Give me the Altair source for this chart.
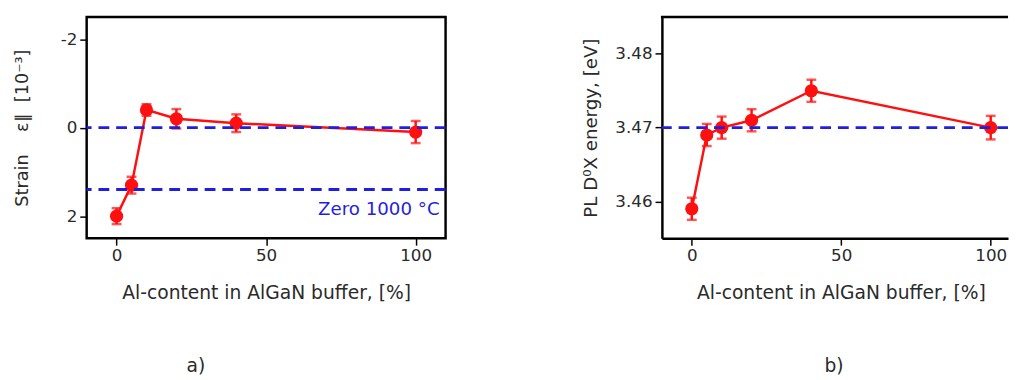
import altair as alt
import pandas as pd

# ---- data ----
al_content = [0, 5, 10, 20, 40, 100]
strain = [2.0, 1.3, -0.4, -0.2, -0.1, 0.1]
strain_err = [0.18, 0.19, 0.13, 0.22, 0.2, 0.25]
energy = [3.459, 3.469, 3.470, 3.471, 3.475, 3.470]
energy_err = [0.0015, 0.0015, 0.0015, 0.0015, 0.0015, 0.0016]
strain_refs = [0.0, 1.4]
energy_refs = [3.470]
strain_ticks = [-2, 0, 2]
energy_ticks = [3.46, 3.47, 3.48]
x_ticks = [0, 50, 100]

FONT = "DejaVu Sans"
RED = "#ff1010"
BLUE = "#1f1fe0"
TXT = "#2a2a2a"

df_s = pd.DataFrame({"al": al_content, "v": strain,
                     "lo": [v - e for v, e in zip(strain, strain_err)],
                     "hi": [v + e for v, e in zip(strain, strain_err)]})
df_e = pd.DataFrame({"al": al_content, "v": energy,
                     "lo": [v - e for v, e in zip(energy, energy_err)],
                     "hi": [v + e for v, e in zip(energy, energy_err)]})

xtitle = "Al-content in AlGaN buffer, [%]"


def panel(df, refs, ydomain, yticks, reverse, ytitle, ytitle_x, ytitle_size, label_expr,
          width, xdomain, label, label_x, xtitle_x, frame):
    xs = alt.Scale(domain=xdomain, nice=False, zero=False)
    ys = alt.Scale(domain=ydomain, nice=False, zero=False, reverse=reverse)
    xaxis = alt.Axis(values=x_ticks, title=xtitle, grid=False, domain=not frame,
                     domainColor="black", domainWidth=2.5,
                     tickColor="black", tickWidth=1.5, tickSize=7,
                     labelPadding=3, labelFontSize=17, labelColor=TXT, labelFont=FONT,
                     titleFont=FONT, titleFontSize=19, titleFontWeight="normal",
                     titleColor=TXT, titleY=55, titleBaseline="middle",
                     titleX=xtitle_x)
    yaxis = alt.Axis(values=yticks, title=ytitle, grid=False, domain=not frame,
                     domainColor="black", domainWidth=2.5, labelExpr=label_expr,
                     tickColor="black", tickWidth=1.5, tickSize=7,
                     labelPadding=3, labelFontSize=17, labelColor=TXT, labelFont=FONT,
                     titleFont=FONT, titleFontSize=ytitle_size, titleFontWeight="normal",
                     titleColor=TXT, titleX=ytitle_x, titleBaseline="middle")
    base = alt.Chart(df)
    line = base.mark_line(color=RED, strokeWidth=2.5).encode(
        x=alt.X("al:Q", scale=xs, axis=xaxis), y=alt.Y("v:Q", scale=ys, axis=yaxis))
    bars = base.mark_rule(color=RED, strokeWidth=2.5).encode(
        x="al:Q", y="lo:Q", y2="hi:Q")
    cap_lo = base.mark_tick(color=RED, orient="horizontal", size=10, thickness=2.5).encode(
        x="al:Q", y="lo:Q")
    cap_hi = base.mark_tick(color=RED, orient="horizontal", size=10, thickness=2.5).encode(
        x="al:Q", y="hi:Q")
    pts = base.mark_circle(color=RED, opacity=1, size=180).encode(x="al:Q", y="v:Q")
    rules = alt.Chart(pd.DataFrame({"r": refs})).mark_rule(
        color=BLUE, strokeWidth=3, strokeDash=[11, 7]).encode(y="r:Q")
    lab = alt.Chart(pd.DataFrame({"t": [label]})).mark_text(
        font=FONT, fontSize=19, color=TXT, baseline="middle").encode(
        text="t:N", x=alt.value(label_x), y=alt.value(355))
    layers = [line, bars, cap_lo, cap_hi, pts, rules, lab]
    if not frame:
        top = alt.Chart(pd.DataFrame({"t": [0]})).mark_rule(
            color="black", strokeWidth=2.5).encode(
            x=alt.value(-1), x2=alt.value(width), y=alt.value(0))
        layers.append(top)
    return layers


NB = "\u00a0"
left_layers = panel(df_s, strain_refs, [-2.5, 2.5], strain_ticks, True,
                    "Strain" + NB * 4 + "ε∥" + NB * 2 + "[10⁻³]", -65, 18,
                    "'' + datum.value", 365, [-10, 110], "a)", 111, 182.5, True)
note = alt.Chart(pd.DataFrame({"x": [108], "y": [1.84], "t": ["Zero 1000 °C"]})).mark_text(
    font=FONT, fontSize=18.5, color=BLUE, align="right", baseline="middle").encode(
    x="x:Q", y="y:Q", text="t:N")
left = alt.layer(*left_layers, note).properties(
    width=365, height=225,
    view=alt.ViewBackground(stroke="black", strokeWidth=2.5))

right_layers = panel(df_e, energy_refs, [3.455, 3.485], energy_ticks, False,
                     "PL D⁰X energy, [eV]", -72, 18.5, "format(datum.value, '.2f')", 352,
                     [-10, 105.8], "b)", 175, 182, False)
right = alt.layer(*right_layers).properties(
    width=352, height=225,
    view=alt.ViewBackground(stroke="transparent", strokeWidth=0))

chart = alt.hconcat(left, right, spacing=220, bounds="flush").properties(
    padding={"left": 4, "top": 4, "right": 0, "bottom": 0}
).configure(font=FONT)

chart.save("out.html", embed_options={"renderer": "svg", "actions": False})
